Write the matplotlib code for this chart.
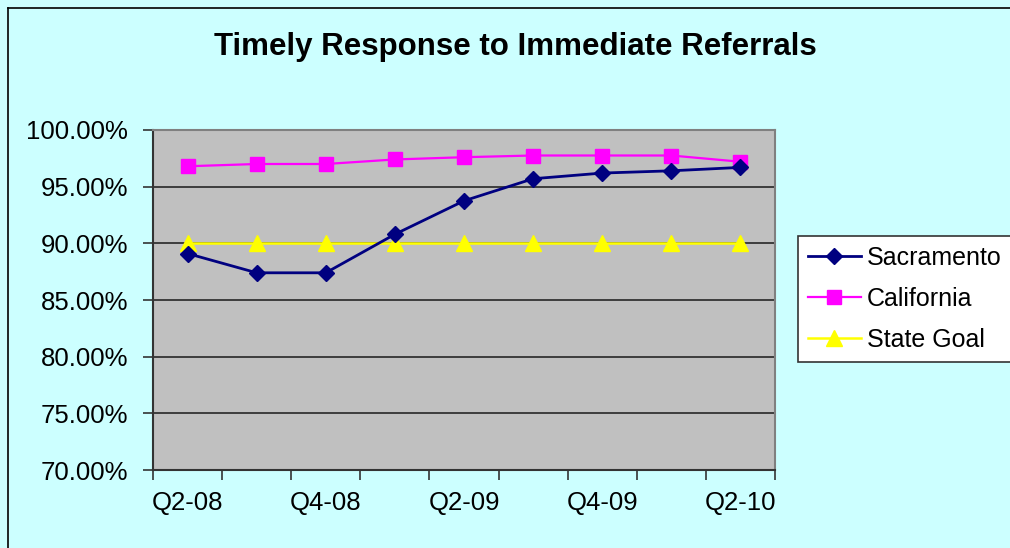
import matplotlib.pyplot as plt
from matplotlib.lines import Line2D
from matplotlib.ticker import FuncFormatter

# quarters shown on the x axis (only every other one is labelled)
quarters = ["Q2-08", "Q3-08", "Q4-08", "Q1-09", "Q2-09", "Q3-09", "Q4-09", "Q1-10", "Q2-10"]
sacramento = [89.1, 87.4, 87.4, 90.8, 93.75, 95.7, 96.2, 96.4, 96.7]
california = [96.8, 97.0, 97.0, 97.4, 97.6, 97.75, 97.75, 97.75, 97.2]
state_goal = [90, 90, 90, 90, 90, 90, 90, 90, 90]

plt.rcParams['font.family'] = ['Liberation Sans', 'DejaVu Sans']

fig = plt.figure(figsize=(10.1, 5.48), dpi=100)
fig.patch.set_facecolor("#CCFFFF")

# black outline of the chart area (only top and left edges are in view)
fx = 8 / 1010
fy = 1 - 8 / 548
fig.lines.append(Line2D([fx, 1.01], [fy, fy], transform=fig.transFigure,
                        color="black", linewidth=1.2))
fig.lines.append(Line2D([fx, fx], [-0.01, fy], transform=fig.transFigure,
                        color="black", linewidth=1.2))

ax = fig.add_axes([153 / 1010, 78 / 548, 622 / 1010, 340 / 548])
ax.set_facecolor("#C0C0C0")

x = list(range(len(quarters)))
ax.plot(x, sacramento, color="#000080", linewidth=2, marker="D", markersize=8.3,
        label="Sacramento", zorder=4)
ax.plot(x, california, color="#FF00FF", linewidth=1.6, marker="s", markersize=9.5,
        label="California", zorder=3)
ax.plot(x, state_goal, color="#FFFF00", linewidth=1.8, marker="^", markersize=11,
        label="State Goal", zorder=3)

ax.set_xlim(-0.5, len(quarters) - 0.5)
ax.set_ylim(70, 100)
ax.set_yticks([70, 75, 80, 85, 90, 95, 100])
ax.yaxis.set_major_formatter(FuncFormatter(lambda v, p: "%.2f%%" % v))
ax.grid(axis="y", color="#333333", linewidth=1.3)
ax.set_axisbelow(True)

ax.set_xticks(x[::2])
ax.set_xticklabels(quarters[::2])
ax.set_xticks([i - 0.5 for i in range(len(quarters) + 1)], minor=True)
ax.tick_params(axis="x", which="major", length=0, pad=15, labelsize=18.5)
ax.tick_params(axis="x", which="minor", length=7, width=1.2, color="#333333")
ax.tick_params(axis="y", length=7, width=1.2, color="#333333", pad=11, labelsize=18.5)

for side in ["top", "right"]:
    ax.spines[side].set_color("#808080")
    ax.spines[side].set_linewidth(1.5)
for side in ["left", "bottom"]:
    ax.spines[side].set_color("#333333")
    ax.spines[side].set_linewidth(1.5)

fig.text(515 / 1010, 1 - 47 / 548, "Timely Response to Immediate Referrals",
         fontsize=22.5, fontweight="bold", ha="center", va="center")

leg = ax.legend(loc="upper left", bbox_to_anchor=(798 / 1010, 1 - 236 / 548),
                bbox_transform=fig.transFigure, fontsize=18, frameon=True,
                fancybox=False, framealpha=1, edgecolor="#333333",
                handlelength=2.1, handletextpad=0.25, labelspacing=0.68,
                borderaxespad=0, borderpad=0.4, handleheight=0.8)
leg.get_frame().set_linewidth(1.2)

fig.savefig("out.png", dpi=100, facecolor=fig.get_facecolor())
